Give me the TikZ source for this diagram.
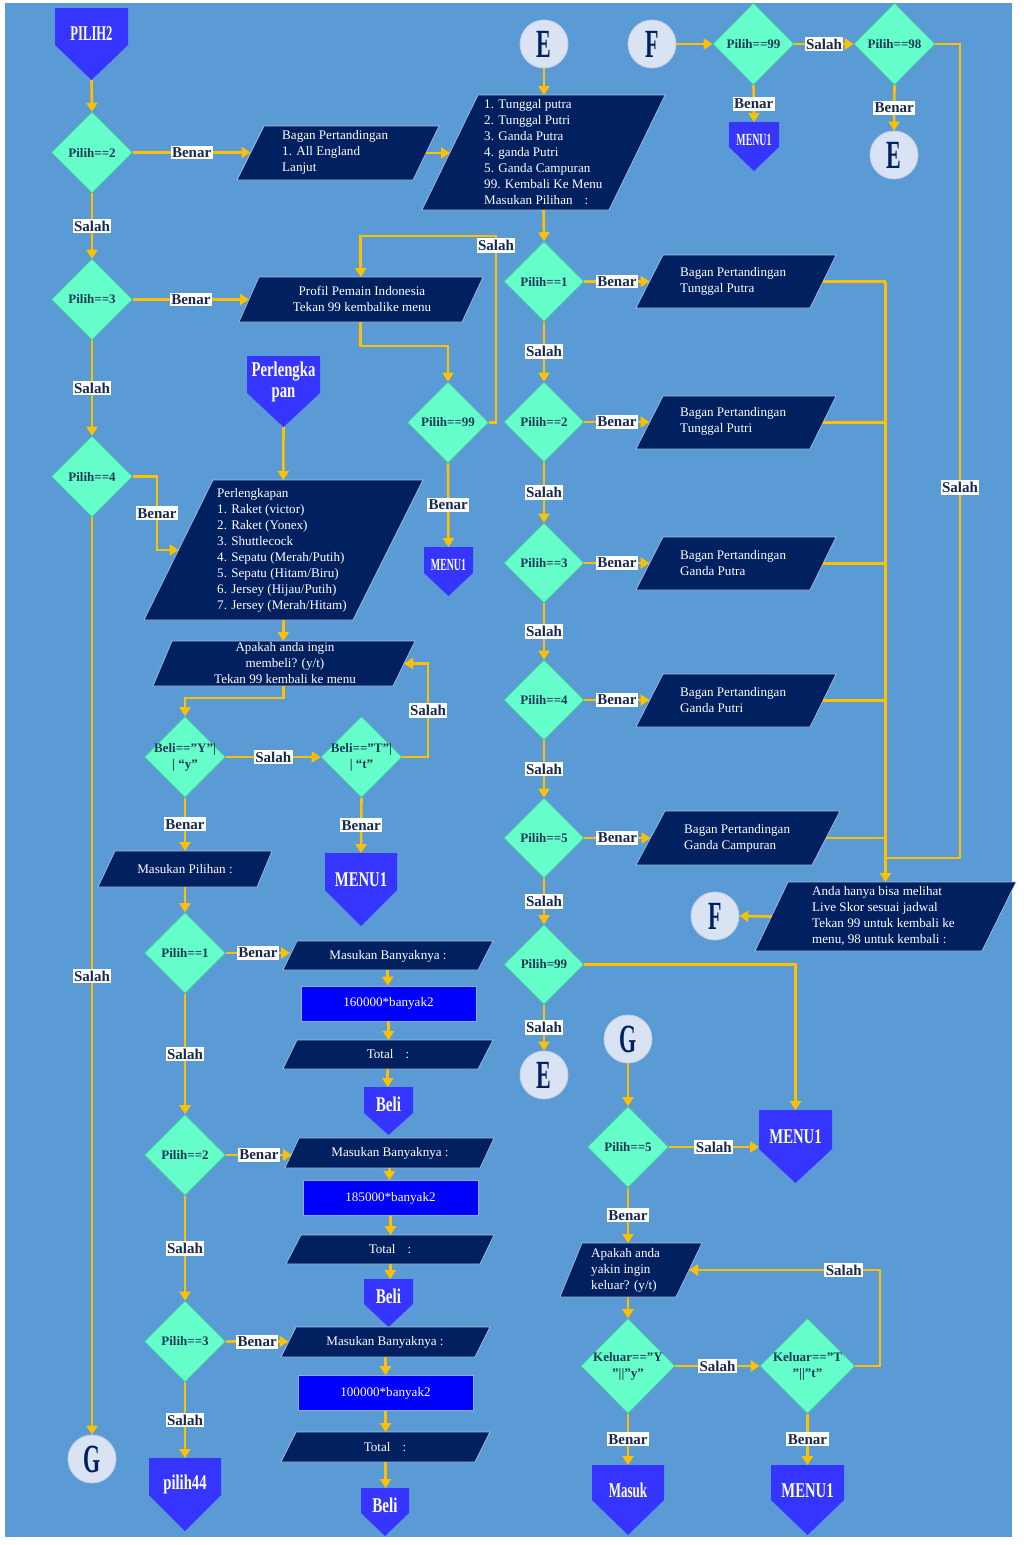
\documentclass[tikz,border=0pt]{standalone}
\usepackage{fontspec}
\setmainfont{Liberation Serif}
\usetikzlibrary{arrows.meta,shapes.geometric}

\definecolor{bgblue}{HTML}{5B9BD5}
\definecolor{navy}{HTML}{002060}
\definecolor{ioedge}{HTML}{A9BCDC}
\definecolor{decfill}{HTML}{66FFCC}
\definecolor{decedge}{HTML}{45C79E}
\definecolor{dectext}{HTML}{1B3A57}
\definecolor{offblue}{HTML}{3535FF}
\definecolor{pureblue}{HTML}{0000FF}
\definecolor{procedge}{HTML}{8FAADC}
\definecolor{circfill}{HTML}{DAE3F3}
\definecolor{circedge}{HTML}{C3CEE2}
\definecolor{gold}{HTML}{FFC000}
\definecolor{labtext}{HTML}{17294D}

\tikzset{
  anchorbox/.style={shape=rectangle, inner sep=0pt, outer sep=0pt},
  dec/.style={shape=diamond, aspect=1, draw=decedge, line width=0.6pt, fill=decfill,
    inner sep=0pt, minimum width=81pt, minimum height=81pt, text=dectext,
    font=\fontsize{13}{16}\selectfont\bfseries, align=center},
  conn/.style={circle, fill=circfill, draw=circedge, line width=0.8pt,
    minimum size=48pt, inner sep=0pt, text=navy},
  iofill/.style={fill=navy, draw=ioedge, line width=0.7pt},
  iotxt/.style={text=white, font=\fontsize{13.1}{16}\selectfont, inner sep=0pt},
  offfill/.style={fill=offblue},
  offtxt/.style={text=white, inner sep=0pt, align=center},
  proc/.style={rectangle, fill=pureblue, draw=procedge, line width=0.8pt, inner sep=0pt,
    text=white, font=\fontsize{13.1}{16}\selectfont, minimum width=175pt, minimum height=35pt},
  flow/.style={draw=gold, line width=2.6pt, -{Triangle[width=11pt,length=9pt]}},
  wire/.style={draw=gold, line width=2.6pt},
  lab/.style={fill=white, text=labtext, font=\fontsize{15}{15}\selectfont\bfseries,
    inner xsep=1.5pt, inner ysep=2pt},
}

% condensed text for connectors and terminals
\newcommand{\cnd}[2]{\scalebox{#1}[1]{#2}}
\newcommand{\cletter}[1]{\scalebox{0.55}[1]{\fontsize{40}{40}\selectfont\bfseries #1}}

% data box: name, top-left x, top-right x, bottom-left x, bottom-right x, top y, bottom y
\newcommand{\iobox}[7]{%
  \filldraw[iofill] (#2,#6) -- (#3,#6) -- (#5,#7) -- (#4,#7) -- cycle;
  \node[anchorbox, minimum width={(#3+#5-#2-#4)/2}, minimum height={#7-#6}]
    (#1) at ({(#2+#3+#4+#5)/4},{(#6+#7)/2}) {};
}
% off-page connector: name, left x, right x, top y, shoulder y, tip y, font size, text
\newcommand{\offpage}[8]{%
  \fill[offfill] (#2,#4) -- (#3,#4) -- (#3,#5) -- ({(#2+#3)/2},#6) -- (#2,#5) -- cycle;
  \node[anchorbox, minimum width={#3-#2}, minimum height={#6-#4}]
    (#1) at ({(#2+#3)/2},{(#4+#6)/2}) {};
  \node[offtxt, font=\fontsize{#7}{#7}\selectfont\bfseries]
    (#1-t) at ({(#2+#3)/2},{#4+0.36*(#6-#4)}) {#8};
}

\begin{document}
\begin{tikzpicture}[x=1pt,y=-1pt]
\useasboundingbox (0,0) rectangle (1023,1545);
\fill[white] (0,0) rectangle (1023,1545);
\fill[bgblue] (5,3) rectangle (1012,1537);

% ---------- off-page connectors ----------
\offpage{pil2}{55}{128}{8}{45}{80}{21}{\cnd{0.6}{PILIH2}}
\offpage{perl}{247}{320}{356}{393}{427}{21}{\cnd{0.7}{Perlengka}\\\cnd{0.7}{pan}}
\offpage{mnA}{424}{473}{547}{573}{596}{17}{\cnd{0.58}{MENU1}}
\offpage{mnB}{729}{779}{122}{147}{171}{17}{\cnd{0.58}{MENU1}}
\offpage{mnC}{325}{397}{853}{890}{926}{21}{\cnd{0.7}{MENU1}}
\offpage{beli1}{364}{413}{1087}{1113}{1135}{21}{\cnd{0.72}{Beli}}
\offpage{beli2}{364}{413}{1279}{1304}{1327}{21}{\cnd{0.72}{Beli}}
\offpage{beli3}{361}{409}{1488}{1513}{1536}{21}{\cnd{0.72}{Beli}}
\offpage{p44}{149}{221}{1458}{1495}{1531}{21}{\cnd{0.7}{pilih44}}
\offpage{mnD}{759}{832}{1110}{1149}{1183}{21}{\cnd{0.7}{MENU1}}
\offpage{masuk}{592}{664}{1465}{1500}{1535}{21}{\cnd{0.62}{Masuk}}
\offpage{mnE}{771}{844}{1465}{1500}{1535}{21}{\cnd{0.7}{MENU1}}

% ---------- data boxes ----------
\iobox{pA}{264}{439}{237}{413}{126}{180}
\node[iotxt, anchor=west, align=left] (pA-t) at (282,152) {Bagan Pertandingan\\1. All England\\Lanjut};
\iobox{pM}{478}{665}{422}{609}{95}{210}
\node[iotxt, anchor=west, align=left] (pM-t) at (484,152.5) {1. Tunggal putra\\2. Tunggal Putri\\3. Ganda Putra\\4. ganda Putri\\5. Ganda Campuran\\99. Kembali Ke Menu\\Masukan Pilihan\hspace{12pt}:};
\iobox{pP}{259}{483}{239}{462}{277}{322}
\node[iotxt, align=center] (pP-t) at (362,299) {Profil Pemain Indonesia\\Tekan 99 kembalike menu};
\iobox{pL}{213}{423}{144}{353}{480}{620}
\node[iotxt, anchor=west, align=left] (pL-t) at (217,550) {Perlengkapan\\1. Raket (victor)\\2. Raket (Yonex)\\3. Shuttlecock\\4. Sepatu (Merah/Putih)\\5. Sepatu (Hitam/Biru)\\6. Jersey (Hijau/Putih)\\7. Jersey (Merah/Hitam)};
\iobox{pQ}{172}{415}{153}{393}{641}{686}
\node[iotxt, align=center] (pQ-t) at (285,663) {Apakah anda ingin\\membeli? (y/t)\\Tekan 99 kembali ke menu};
\iobox{pI}{115}{272}{98}{257}{851}{887}
\node[iotxt] (pI-t) at (185,869) {Masukan Pilihan :};
\iobox{pB1}{297}{493}{283}{478}{941}{970}
\node[iotxt] (pB1-t) at (388,956) {Masukan Banyaknya :};
\iobox{pT1}{297}{493}{283}{478}{1040}{1069}
\node[iotxt] (pT1-t) at (388,1054) {Total\hspace{12pt}:};
\iobox{pB2}{299}{494}{285}{480}{1138}{1168}
\node[iotxt] (pB2-t) at (390,1153) {Masukan Banyaknya :};
\iobox{pT2}{301}{494}{286}{480}{1235}{1264}
\node[iotxt] (pT2-t) at (390,1249) {Total\hspace{12pt}:};
\iobox{pB3}{296}{490}{281}{475}{1327}{1357}
\node[iotxt] (pB3-t) at (385,1342) {Masukan Banyaknya :};
\iobox{pT3}{296}{490}{281}{475}{1432}{1462}
\node[iotxt] (pT3-t) at (385,1447) {Total\hspace{12pt}:};

\iobox{pG1}{663}{836}{636}{810}{255}{308}
\node[iotxt, anchor=west, align=left] (pG1-t) at (680,281.5) {Bagan Pertandingan\\Tunggal Putra};
\iobox{pG2}{663}{836}{636}{810}{396}{449}
\node[iotxt, anchor=west, align=left] (pG2-t) at (680,421.5) {Bagan Pertandingan\\Tunggal Putri};
\iobox{pG3}{663}{836}{636}{810}{537}{590}
\node[iotxt, anchor=west, align=left] (pG3-t) at (680,563) {Bagan Pertandingan\\Ganda Putra};
\iobox{pG4}{663}{836}{636}{810}{674}{727}
\node[iotxt, anchor=west, align=left] (pG4-t) at (680,700) {Bagan Pertandingan\\Ganda Putri};
\iobox{pG5}{665}{840}{636}{812}{811}{865}
\node[iotxt, anchor=west, align=left] (pG5-t) at (684,838) {Bagan Pertandingan\\Ganda Campuran};
\iobox{pN}{788}{1016}{755}{982}{882}{951}
\node[iotxt, anchor=west, align=left] (pN-t) at (812,915.5) {Anda hanya bisa melihat\\Live Skor sesuai jadwal\\Tekan 99 untuk kembali ke\\menu, 98 untuk kembali :};
\iobox{pY}{582}{702}{560}{676}{1243}{1297}
\node[iotxt, anchor=west, align=left] (pY-t) at (591,1270) {Apakah anda\\yakin ingin\\keluar? (y/t)};

% ---------- process boxes ----------
\node[proc] (r1) at (388.5,1003.5) {160000*banyak2};
\node[proc] (r2) at (390.5,1198) {185000*banyak2};
\node[proc] (r3) at (385.5,1393) {100000*banyak2};

% ---------- decisions ----------
\node[dec] (dA) at (92,152.5) {Pilih==2};
\node[dec] (dB) at (92,299.5) {Pilih==3};
\node[dec] (dC) at (92,476.5) {Pilih==4};
\node[dec] (dQ) at (448,422.5) {Pilih==99};
\node[dec] (dY) at (185,757) {\makebox[40pt]{Beli==”Y”|}\\| “y”};
\node[dec] (dT) at (361.5,757) {\makebox[40pt]{Beli==”T”|}\\| “t”};
\node[dec] (dE1) at (185,953) {Pilih==1};
\node[dec] (dE2) at (185,1155) {Pilih==2};
\node[dec] (dE3) at (185,1341.5) {Pilih==3};
\node[dec, minimum width=80pt, minimum height=80pt] (dM1) at (544,281.5) {Pilih==1};
\node[dec, minimum width=80pt, minimum height=80pt] (dM2) at (544,422) {Pilih==2};
\node[dec, minimum width=80pt, minimum height=80pt] (dM3) at (544,563) {Pilih==3};
\node[dec, minimum width=80pt, minimum height=80pt] (dM4) at (544,700) {Pilih==4};
\node[dec, minimum width=80pt, minimum height=80pt] (dM5) at (544,838) {Pilih==5};
\node[dec, minimum width=80pt, minimum height=80pt] (dM9) at (544,964.5) {Pilih=99};
\node[dec, minimum height=82pt] (dR1) at (753.5,44) {Pilih==99};
\node[dec, minimum height=82pt] (dR2) at (894.5,44) {Pilih==98};
\node[dec] (dG5) at (628,1147) {Pilih==5};
\node[dec, minimum width=94pt, minimum height=95pt] (dKY) at (628,1366) {\makebox[50pt]{Keluar==”Y}\\”||”y”};
\node[dec, minimum width=95pt, minimum height=95pt] (dKT) at (807.5,1366) {\makebox[50pt]{Keluar==”T}\\”||”t”};

% ---------- on-page connectors ----------
\node[conn] (cE1) at (544,44) {\cletter{E}};
\node[conn] (cF1) at (652,44) {\cletter{F}};
\node[conn] (cE2) at (894,155) {\cletter{E}};
\node[conn] (cF2) at (715,916) {\cletter{F}};
\node[conn] (cE3) at (544,1075) {\cletter{E}};
\node[conn] (cG1) at (628,1039) {\cletter{G}};
\node[conn] (cG2) at (92,1459) {\cletter{G}};

% ---------- flow: left column ----------
\draw[flow] (pil2.south) -- (dA.north);
\draw[flow] (dA.east) -- node[lab] (b1) {Benar} (dA.east -| pA.west);
\draw[flow] (pA.east) -- (pA.east -| pM.west);
\draw[flow] (dA.south) -- node[lab] (s1) {Salah} (dB.north);
\draw[flow] (dB.east) -- node[lab] (b2) {Benar} (dB.east -| pP.west);
\draw[flow] (dB.south) -- node[lab] (s2) {Salah} (dC.north);
\draw[flow] (dC.east) -- (157,476.5) -- node[lab] (b3) {Benar} (157,550) -- (pL.west);
\draw[flow] (dC.south) -- node[lab] (s3) {Salah} (cG2.north);
\draw[flow] (pP.south) -- ++(0,24) -| (dQ.north);
\draw[flow] (dQ.east) -- (496,422.5) -- node[lab, pos=0.95] (s4) {Salah} (496,236) -| (pP.north);
\draw[flow] (dQ.south) -- node[lab] (b4) {Benar} (mnA.north);
\draw[flow] (perl.south) -- (pL.north);
\draw[flow] (pL.south) -- (pQ.north);
\draw[flow] (pQ.south) -- ++(0,12) -| (dY.north);
\draw[flow] (dY.east) -- node[lab] (s5) {Salah} (dT.west);
\draw[flow] (dT.east) -- (428,757) -- node[lab] (s6) {Salah} (428,663.5) -- (pQ.east);
\draw[flow] (dT.south) -- node[lab] (b5) {Benar} (mnC.north);
\draw[flow] (dY.south) -- node[lab] (b6) {Benar} (dY.south |- pI.north);
\draw[flow] (dY.south |- pI.south) -- (dE1.north);
\draw[flow] (dE1.east) -- node[lab] (b7) {Benar} (dE1.east -| pB1.west);
\draw[flow] (pB1.south) -- (pB1.south |- r1.north);
\draw[flow] (r1.south) -- (r1.south |- pT1.north);
\draw[flow] (pT1.south) -- (pT1.south |- beli1.north);
\draw[flow] (dE1.south) -- node[lab] (s7) {Salah} (dE2.north);
\draw[flow] (dE2.east) -- node[lab] (b8) {Benar} (dE2.east -| pB2.west);
\draw[flow] (pB2.south) -- (pB2.south |- r2.north);
\draw[flow] (r2.south) -- (r2.south |- pT2.north);
\draw[flow] (pT2.south) -- (pT2.south |- beli2.north);
\draw[flow] (dE2.south) -- node[lab] (s8) {Salah} (dE3.north);
\draw[flow] (dE3.east) -- node[lab] (b9) {Benar} (dE3.east -| pB3.west);
\draw[flow] (pB3.south) -- (pB3.south |- r3.north);
\draw[flow] (r3.south) -- (r3.south |- pT3.north);
\draw[flow] (pT3.south) -- (pT3.south |- beli3.north);
\draw[flow] (dE3.south) -- node[lab] (s9) {Salah} (p44.north);

% ---------- flow: middle column ----------
\draw[flow] (cE1.south) -- (cE1.south |- pM.north);
\draw[flow] (pM.south) -- (dM1.north);
\draw[flow] (dM1.east) -- node[lab] (b10) {Benar} (dM1.east -| pG1.west);
\draw[flow] (dM2.east) -- node[lab] (b11) {Benar} (dM2.east -| pG2.west);
\draw[flow] (dM3.east) -- node[lab] (b12) {Benar} (dM3.east -| pG3.west);
\draw[flow] (dM4.east) -- node[lab] (b13) {Benar} (dM4.east -| pG4.west);
\draw[flow] (dM5.east) -- node[lab] (b14) {Benar} (dM5.east -| pG5.west);
\draw[flow] (dM1.south) -- node[lab] (s10) {Salah} (dM2.north);
\draw[flow] (dM2.south) -- node[lab] (s11) {Salah} (dM3.north);
\draw[flow] (dM3.south) -- node[lab] (s12) {Salah} (dM4.north);
\draw[flow] (dM4.south) -- node[lab] (s13) {Salah} (dM5.north);
\draw[flow] (dM5.south) -- node[lab] (s14) {Salah} (dM9.north);
\draw[flow] (dM9.south) -- node[lab] (s15) {Salah} (cE3.north);
\draw[flow] (dM9.east) -| (mnD.north);

% collector into the live-score box
\coordinate (bus) at (885.5,281.5);
\draw[wire] (pG1.east) -- (pG1.east -| bus);
\draw[wire] (pG2.east) -- (pG2.east -| bus);
\draw[wire] (pG3.east) -- (pG3.east -| bus);
\draw[wire] (pG4.east) -- (pG4.east -| bus);
\draw[wire] (pG5.east) -- (pG5.east -| bus);
\draw[flow] (bus) -- (bus |- pN.north);
\draw[flow] (pN.west) -- (cF2.east);

% ---------- flow: top right ----------
\draw[flow] (cF1.east) -- (dR1.west);
\draw[flow] (dR1.east) -- node[lab] (s16) {Salah} (dR2.west);
\draw[flow] (dR1.south) -- node[lab] (b15) {Benar} (mnB.north);
\draw[flow] (dR2.south) -- node[lab] (b16) {Benar} (cE2.north);
\draw[wire] (dR2.east) -- (960,44) -- node[lab, pos=0.545] (s17) {Salah} (960,858) -- (bus |- 0,858);

% ---------- flow: bottom right ----------
\draw[flow] (cG1.south) -- (dG5.north);
\draw[flow] (dG5.east) -- node[lab] (s18) {Salah} (dG5.east -| mnD.west);
\draw[flow] (dG5.south) -- node[lab] (b17) {Benar} (dG5.south |- pY.north);
\draw[flow] (dKY.north |- pY.south) -- (dKY.north);
\draw[flow] (dKY.east) -- node[lab] (s19) {Salah} (dKT.west);
\draw[flow] (dKT.east) -- (880,1366) -- (880,1270) -- node[lab, pos=0.19] (s20) {Salah} (pY.east);
\draw[flow] (dKY.south) -- node[lab] (b18) {Benar} (masuk.north);
\draw[flow] (dKT.south) -- node[lab] (b19) {Benar} (mnE.north);
\end{tikzpicture}
\end{document}
